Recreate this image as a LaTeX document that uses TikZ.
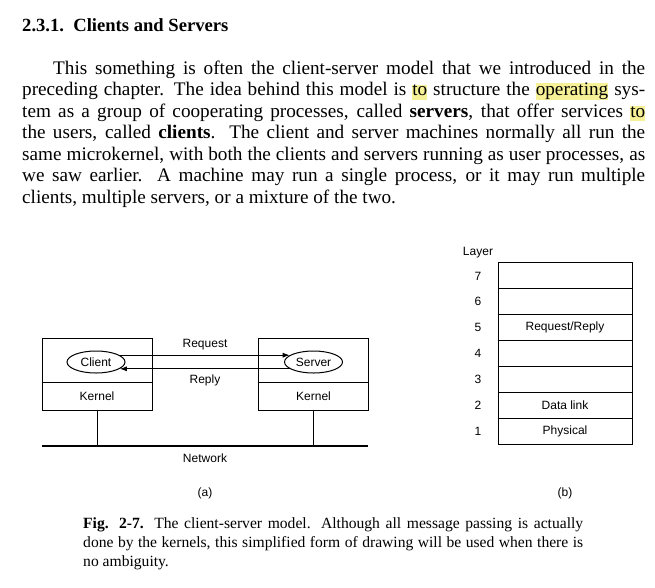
\documentclass[tikz,border=0pt]{standalone}
\usepackage{fontspec}
\setmainfont{Liberation Serif}
\setsansfont{Liberation Sans}
\usetikzlibrary{positioning,shapes.geometric,arrows.meta}
\definecolor{hlyellow}{RGB}{246,240,150}
\newcommand{\hlt}[1]{{\setlength{\fboxsep}{0pt}\colorbox{hlyellow}{\rule[-4pt]{0pt}{15pt}#1}}}
\hyphenpenalty=10000
\exhyphenpenalty=10000
\tikzset{
    lbl/.style={font=\sffamily\fontsize{12}{14}\selectfont, inner sep=0pt},
    machine/.style={draw, line width=1pt, minimum width=110pt, minimum height=72pt, inner sep=0pt},
    kernelbox/.style={draw, line width=1pt, minimum width=110pt, minimum height=28pt, inner sep=0pt, font=\sffamily\fontsize{12}{14}\selectfont},
    proc/.style={draw, ellipse, line width=1pt, minimum width=58pt, minimum height=22pt, inner sep=0pt, font=\sffamily\fontsize{12}{14}\selectfont},
    layerbox/.style={draw, line width=1pt, minimum width=134pt, minimum height=25.86pt, inner sep=0pt, font=\sffamily\fontsize{12}{14}\selectfont},
    msg/.style={line width=0.9pt, -{Latex[length=7pt,width=5pt]}}
}
\begin{document}
\begin{tikzpicture}[x=1pt, y=-1pt]
    \fill[white] (0,0) rectangle (655,587);
    \useasboundingbox (0,0) rectangle (655,587);
    \node[anchor=base west, inner sep=0pt, font=\bfseries\fontsize{18.6}{21}\selectfont] (title) at (22,31) {2.3.1.\ \ Clients and Servers};
    \node[anchor=north west, inner sep=0pt, text width=623pt, align=justify, font=\fontsize{19.2}{21.5}\selectfont] (para) at (22,60.5) {%
        \hspace*{31pt}This something is often the client-server model that we introduced in the\linebreak
        preceding chapter. The idea behind this model is \hlt{to} structure the \hlt{operating} sys-\linebreak
        tem as a group of cooperating processes, called \textbf{servers}, that offer services \hlt{to}\linebreak
        the users, called \textbf{clients}. The client and server machines normally all run the\linebreak
        same microkernel, with both the clients and servers running as user processes, as\linebreak
        we saw earlier. A machine may run a single process, or it may run multiple\linebreak
        clients, multiple servers, or a mixture of the two.};

    \node[machine] (cmach) at (97,374) {};
    \node[kernelbox, anchor=south] (ckern) at (cmach.south) {Kernel};
    \node[proc] (client) at (96,362) {Client};
    \node[machine] (smach) at (313.5,374) {};
    \node[kernelbox, anchor=south] (skern) at (smach.south) {Kernel};
    \node[proc] (server) at (313.5,362) {Server};
    \draw[msg] (client.16) -- (server.164);
    \draw[msg] (server.196) -- (client.-16);
    \node[lbl] (req) at (205,345) {Request};
    \node[lbl] (rep) at (205,380) {Reply};
    \coordinate (netL) at (42,446);
    \coordinate (netR) at (368,446);
    \draw[line width=1.3pt] (netL) -- (netR);
    \draw[line width=1pt] (ckern.south) -- (ckern.south |- netL);
    \draw[line width=1pt] (skern.south) -- (skern.south |- netL);
    \node[lbl] (net) at (205,458) {Network};
    \node[lbl] (capa) at (205,493) {(a)};

    \node[lbl] (layer) at (478,253) {Layer};
    \foreach \n/\txt in {1/Physical, 2/Data link, 3/, 4/, 5/{Request/Reply}, 6/, 7/} {
        \node[layerbox] (L\n) at (565,{444-(\n-0.5)*25.86}) {\txt};
        \node[lbl] (N\n) at (478,{444-(\n-0.5)*25.86}) {\n};
    }
    \node[lbl] (capb) at (565,493) {(b)};

    \node[anchor=north west, inner sep=0pt, text width=500pt, align=justify, font=\fontsize{15.6}{19}\selectfont] (cap) at (83,517) {%
        \textbf{Fig. 2-7.} The client-server model. Although all message passing is actually\linebreak
        done by the kernels, this simplified form of drawing will be used when there is\linebreak
        no ambiguity.};
\end{tikzpicture}
\end{document}
